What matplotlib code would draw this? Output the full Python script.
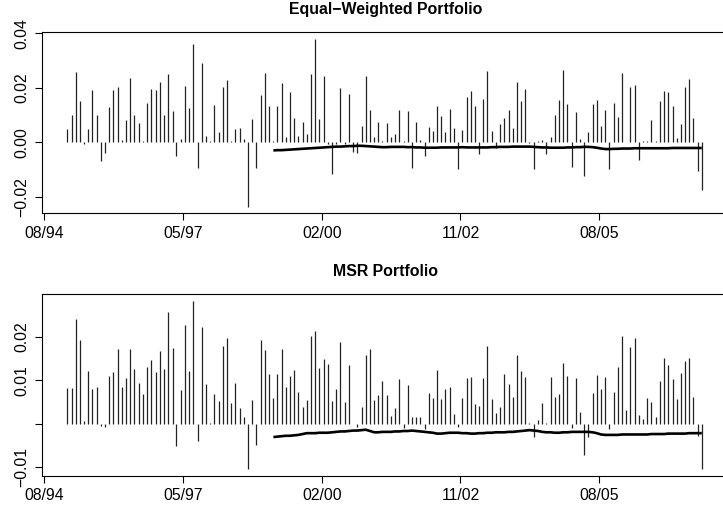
import matplotlib
matplotlib.use("Agg")
import matplotlib.pyplot as plt
import pandas as pd

plt.rcParams['font.family'] = ['Liberation Sans', 'DejaVu Sans']

# monthly dates of the returns
dates = pd.date_range('1995-01-01', periods=152, freq='MS') + pd.Timedelta(days=14)

# equal-weighted portfolio returns
ew_ret = [
    0.0049, 0.0101, 0.0258, 0.0152, -0.0007, 0.0049, 0.0193, 0.0101, -0.0069, -0.0040,
    0.0129, 0.0193, 0.0203, 0.0007, 0.0083, 0.0237, 0.0101, 0.0070, 0.0005, 0.0144,
    0.0196, 0.0191, 0.0221, 0.0099, 0.0250, 0.0115, -0.0049, 0.0012, 0.0207, 0.0126,
    0.0361, -0.0093, 0.0291, 0.0022, 0.0005, 0.0136, 0.0037, 0.0203, 0.0230, 0.0003,
    0.0047, 0.0054, 0.0012, -0.0237, 0.0087, -0.0093, 0.0173, 0.0255, 0.0134, 0.0005,
    0.0134, 0.0217, 0.0021, 0.0185, 0.0090, 0.0023, 0.0076, 0.0031, 0.0249, 0.0380,
    0.0085, 0.0244, -0.0005, -0.0118, -0.0005, 0.0199, -0.0005, 0.0178, -0.0034, -0.0040,
    0.0058, 0.0244, 0.0119, 0.0020, 0.0074, 0.0005, 0.0070, 0.0021, 0.0029, 0.0119,
    0.0005, 0.0115, -0.0093, 0.0075, 0.0009, -0.0050, 0.0056, 0.0043, 0.0134, 0.0097,
    0.0037, 0.0121, 0.0054, -0.0098, 0.0045, 0.0167, 0.0189, 0.0134, -0.0044, 0.0160,
    0.0260, 0.0040, -0.0022, 0.0067, 0.0090, 0.0119, 0.0054, 0.0223, 0.0150, 0.0195,
    -0.0004, -0.0098, 0.0003, 0.0009, -0.0043, 0.0021, 0.0099, 0.0156, 0.0264, 0.0139,
    -0.0091, 0.0112, 0.0012, -0.0124, 0.0037, 0.0139, 0.0156, 0.0060, 0.0119, -0.0099,
    0.0144, 0.0092, 0.0256, 0.0002, 0.0204, 0.0211, -0.0067, 0.0003, 0.0003, 0.0082,
    0.0005, 0.0150, 0.0189, 0.0185, 0.0133, 0.0016, 0.0067, 0.0203, 0.0233, 0.0090,
    -0.0104, -0.0175,
]

# MSR portfolio returns
msr_ret = [
    0.0083, 0.0082, 0.0240, 0.0193, 0.0006, 0.0121, 0.0079, 0.0084, -0.0005, -0.0008,
    0.0110, 0.0118, 0.0173, 0.0084, 0.0104, 0.0171, 0.0126, 0.0094, 0.0069, 0.0131,
    0.0147, 0.0119, 0.0168, 0.0126, 0.0257, 0.0174, -0.0051, 0.0077, 0.0227, 0.0121,
    0.0283, -0.0041, 0.0222, 0.0091, 0.0002, 0.0068, 0.0053, 0.0179, 0.0197, 0.0048,
    0.0094, 0.0035, 0.0015, -0.0105, 0.0055, -0.0050, 0.0193, 0.0170, 0.0114, 0.0059,
    0.0114, 0.0173, 0.0084, 0.0109, 0.0124, 0.0072, 0.0038, 0.0054, 0.0201, 0.0213,
    0.0128, 0.0149, 0.0137, 0.0052, 0.0080, 0.0187, 0.0050, 0.0134, -0.0002, -0.0008,
    0.0038, 0.0158, 0.0171, 0.0055, 0.0066, 0.0099,
    0.0065, 0.0018, 0.0035, 0.0103, -0.0010, 0.0089, 0.0015, 0.0016, 0.0015, -0.0013,
    0.0070, 0.0060, 0.0123, 0.0056, 0.0080, 0.0085, 0.0023, -0.0007, 0.0058, 0.0105,
    0.0108, 0.0045, 0.0040, 0.0104, 0.0179, 0.0056, 0.0024, 0.0038, 0.0114, 0.0092,
    0.0061, 0.0158, 0.0121, 0.0107, 0.0002, -0.0031, 0.0008, 0.0047, 0.0002, 0.0107,
    0.0061, 0.0068, 0.0140, 0.0109, -0.0011, 0.0104, 0.0027, -0.0072, -0.0030, 0.0071,
    0.0112, 0.0080, 0.0108, -0.0012, 0.0073, 0.0131, 0.0202, 0.0032, 0.0177, 0.0197,
    0.0020, 0.0011, 0.0059, 0.0050, 0.0016, 0.0099, 0.0151, 0.0134, 0.0102, 0.0056,
    0.0116, 0.0145, 0.0151, 0.0061, -0.0028, -0.0104,
]

# rolling risk estimate (thick line), starts at month 49
start = 49
ew_risk = [
    -0.0030, -0.0029, -0.0029, -0.0028, -0.0027, -0.0026, -0.0025, -0.0024, -0.0023, -0.0022,
    -0.0021, -0.0020, -0.0019, -0.0018, -0.0017, -0.0016, -0.0016, -0.0015, -0.0014, -0.0014,
    -0.0013, -0.0013, -0.0014, -0.0015, -0.0016, -0.0017, -0.0018, -0.0018, -0.0017, -0.0017,
    -0.0017, -0.0017, -0.0018, -0.0018, -0.0019, -0.0019, -0.0020, -0.0020, -0.0020, -0.0020,
    -0.0019, -0.0019, -0.0019, -0.0019, -0.0019, -0.0018, -0.0019, -0.0019, -0.0019, -0.0019,
    -0.0019, -0.0019, -0.0018, -0.0018, -0.0017, -0.0017, -0.0017, -0.0016, -0.0016, -0.0016,
    -0.0016, -0.0016, -0.0017, -0.0018, -0.0019, -0.0019, -0.0020, -0.0020, -0.0020, -0.0020,
    -0.0019, -0.0019, -0.0018, -0.0018, -0.0017, -0.0017, -0.0018, -0.0020, -0.0023, -0.0025,
    -0.0025, -0.0024, -0.0024, -0.0023, -0.0023, -0.0023, -0.0022, -0.0022, -0.0022, -0.0022,
    -0.0022, -0.0022, -0.0022, -0.0022, -0.0022, -0.0021, -0.0021, -0.0021, -0.0021, -0.0021,
    -0.0021, -0.0021, -0.0021,
]
msr_risk = [
    -0.0031, -0.0030, -0.0029, -0.0028, -0.0028, -0.0027, -0.0026, -0.0024, -0.0022, -0.0022,
    -0.0022, -0.0021, -0.0021, -0.0021, -0.0020, -0.0019, -0.0018, -0.0018, -0.0017, -0.0016,
    -0.0016, -0.0015, -0.0014, -0.0017, -0.0020, -0.0020, -0.0019, -0.0019, -0.0019, -0.0018,
    -0.0018, -0.0017, -0.0017, -0.0016, -0.0017, -0.0018, -0.0019, -0.0020, -0.0021, -0.0023,
    -0.0023, -0.0022, -0.0021, -0.0021, -0.0021, -0.0022, -0.0022, -0.0023, -0.0023, -0.0022,
    -0.0022, -0.0021, -0.0021, -0.0020, -0.0020, -0.0020, -0.0019, -0.0019, -0.0018, -0.0017,
    -0.0016, -0.0015, -0.0016, -0.0017, -0.0019, -0.0020, -0.0020, -0.0021, -0.0021, -0.0020,
    -0.0020, -0.0019, -0.0019, -0.0019, -0.0019, -0.0019, -0.0020, -0.0022, -0.0025, -0.0026,
    -0.0026, -0.0026, -0.0026, -0.0025, -0.0025, -0.0025, -0.0025, -0.0025, -0.0025, -0.0025,
    -0.0024, -0.0024, -0.0024, -0.0024, -0.0023, -0.0023, -0.0023, -0.0023, -0.0023, -0.0022,
    -0.0022, -0.0022, -0.0022,
]

titles = ['Equal\u2212Weighted Portfolio', 'MSR Portfolio']
tick_dates = pd.to_datetime(['1994-08-01', '1997-05-01', '2000-02-01', '2002-11-01', '2005-08-01'])
tick_labels = ['08/94', '05/97', '02/00', '11/02', '08/05']
yticks = [[-0.02, 0.0, 0.02, 0.04], [-0.01, 0.0, 0.01, 0.02]]
ylabels = [['\u22120.02', '0.00', '0.02', '0.04'], ['\u22120.01', '', '0.01', '0.02']]
ylims = [(-0.0261, 0.0404), (-0.0120, 0.0298)]

fig = plt.figure(figsize=(7.23, 5.05), dpi=100)
W, H = 723.0, 505.0
# axes boxes in pixels: left, top, right, bottom
boxes = [(41.7, 32.3, 729.0, 213.3), (41.7, 294.3, 729.0, 475.7)]

rets = [ew_ret, msr_ret]
risks = [ew_risk, msr_risk]
for k in range(2):
    l, t, r, b = boxes[k]
    ax = fig.add_axes([l / W, 1 - b / H, (r - l) / W, (b - t) / H])
    ax.vlines(dates, 0, rets[k], color='#222222', linewidth=0.9)
    ax.plot(dates[start:], risks[k], color='black', linewidth=1.9, solid_capstyle='butt')
    ax.set_xlim(pd.Timestamp('1994-07-13'), pd.Timestamp('2008-02-28'))
    ax.set_ylim(*ylims[k])
    ax.set_xticks(tick_dates)
    ax.set_xticklabels(tick_labels)
    ax.set_yticks(yticks[k])
    ax.set_yticklabels(ylabels[k], rotation=90, va='center')
    ax.tick_params(axis='both', labelsize=11.3, length=5, width=0.8, direction='out', color='black')
    ax.tick_params(axis='x', pad=4)
    ax.tick_params(axis='y', pad=4)
    for s in ax.spines.values():
        s.set_linewidth(0.8)
    ax.set_title(titles[k], fontsize=11.4, fontweight='bold', pad=13)

fig.savefig('out.png', dpi=100)
